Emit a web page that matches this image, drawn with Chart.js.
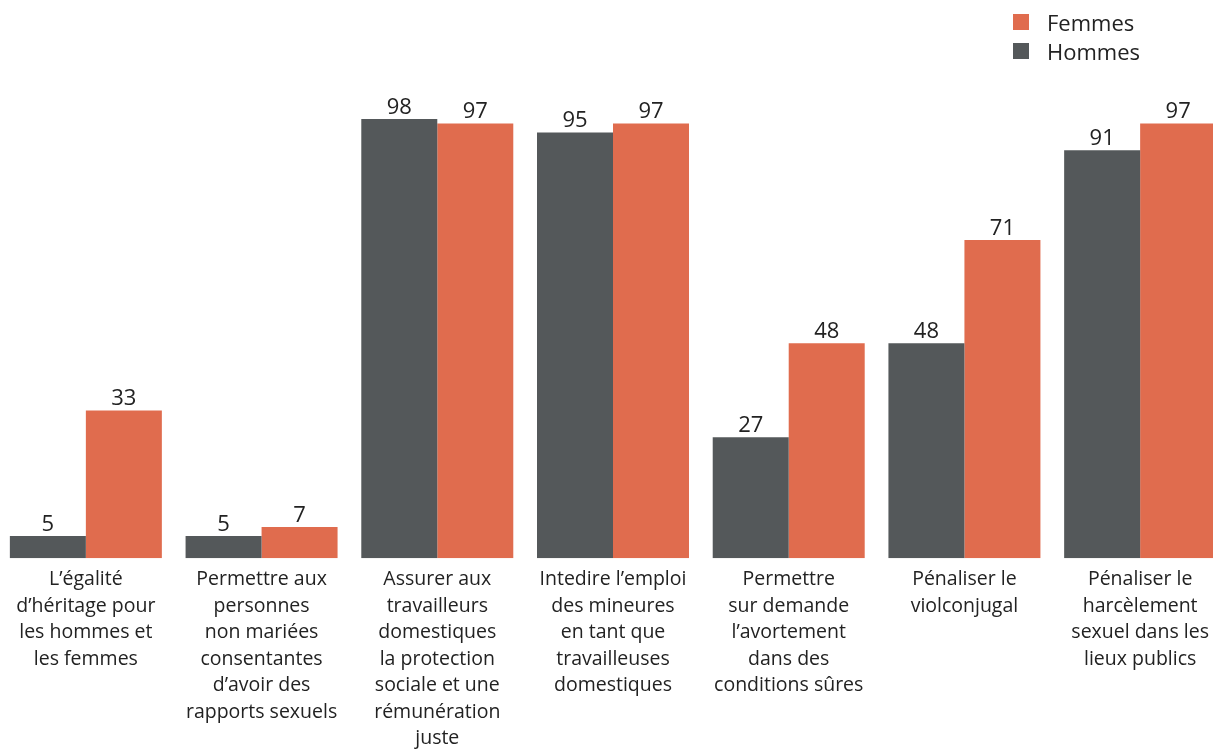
<!DOCTYPE html>
<html>
<head>
<meta charset="utf-8">
<script src="https://cdn.jsdelivr.net/npm/chart.js@4"></script>
<style>
  html, body { margin: 0; padding: 0; background: #fff; width: 1213px; height: 749px; overflow: hidden; position: relative; font-family: "Open Sans", sans-serif; }
  #wrap { position: absolute; left: -2px; top: 0; width: 1230px; height: 749px; }
  .legend { position: absolute; left: 1013px; font-size: 22px; color: #222; }
  .legend .item { position: absolute; left: 0; white-space: nowrap; height: 30px; line-height: 30px; }
  .legend .box { position: absolute; left: 0; width: 16px; height: 16px; top: 7px; }
  .legend .txt { position: absolute; left: 34px; top: 0; }
</style>
</head>
<body>
<div id="wrap"><canvas id="c"></canvas></div>
<div class="legend">
  <div class="item" style="top:7px"><span class="box" style="background:#E06C4E"></span><span class="txt">Femmes</span></div>
  <div class="item" style="top:36px"><span class="box" style="background:#54585A"></span><span class="txt">Hommes</span></div>
</div>
<script>
const categories = [
  ["L’égalité", "d’héritage pour", "les hommes et", "les femmes"],
  ["Permettre aux", "personnes", "non mariées", "consentantes", "d’avoir des", "rapports sexuels"],
  ["Assurer aux", "travailleurs", "domestiques", "la protection", "sociale et une", "rémunération", "juste"],
  ["Intedire l’emploi", "des mineures", "en tant que", "travailleuses", "domestiques"],
  ["Permettre", "sur demande", "l’avortement", "dans des", "conditions sûres"],
  ["Pénaliser le", "violconjugal"],
  ["Pénaliser le", "harcèlement", "sexuel dans les", "lieux publics"]
];
const hommes = [5, 5, 98, 95, 27, 48, 91];
const femmes = [33, 7, 97, 97, 48, 71, 97];

const valueLabels = {
  id: 'valueLabels',
  afterDatasetsDraw(chart) {
    const ctx = chart.ctx;
    ctx.save();
    ctx.font = '22px "Open Sans", sans-serif';
    ctx.fillStyle = '#222';
    ctx.textAlign = 'center';
    ctx.textBaseline = 'alphabetic';
    chart.data.datasets.forEach((ds, i) => {
      chart.getDatasetMeta(i).data.forEach((bar, j) => {
        ctx.fillText(String(ds.data[j]), bar.x, bar.y - 5);
      });
    });
    ctx.restore();
  }
};

new Chart(document.getElementById('c'), {
  type: 'bar',
  data: {
    labels: categories,
    datasets: [
      { label: 'Hommes', data: hommes, backgroundColor: '#54585A', categoryPercentage: 0.865, barPercentage: 1.0 },
      { label: 'Femmes', data: femmes, backgroundColor: '#E06C4E', categoryPercentage: 0.865, barPercentage: 1.0 }
    ]
  },
  options: {
    responsive: true,
    maintainAspectRatio: false,
    animation: false,
    layout: { padding: { top: 110, left: 0, right: 0, bottom: -3 } },
    plugins: { legend: { display: false }, tooltip: { enabled: false } },
    scales: {
      x: {
        grid: { display: false },
        border: { display: false },
        ticks: {
          color: '#222',
          font: { family: '"Open Sans", sans-serif', size: 19.5, lineHeight: 1.36 },
          padding: 0,
          autoSkip: false,
          maxRotation: 0,
          minRotation: 0
        }
      },
      y: {
        display: false,
        min: 0,
        max: 100
      }
    }
  },
  plugins: [valueLabels]
});
</script>
</body>
</html>
